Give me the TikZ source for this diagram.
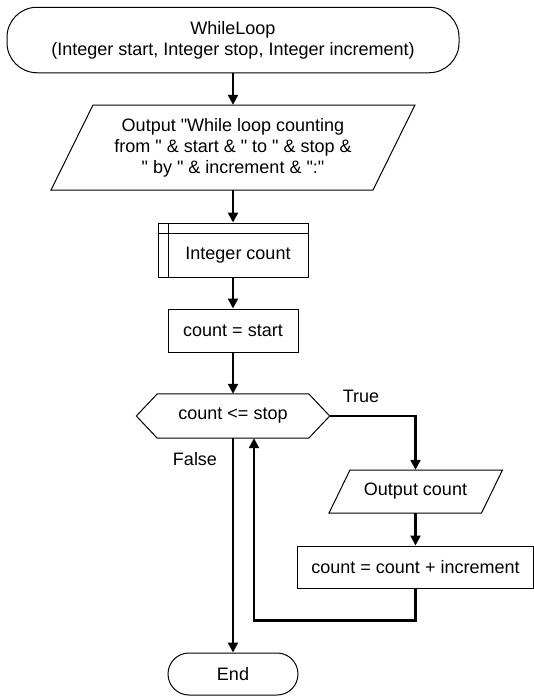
\documentclass[tikz,border=0pt]{standalone}
\usepackage{fontspec}
\setmainfont{Liberation Sans}[Ligatures=TeXOff]
\usetikzlibrary{arrows.meta}
\newcommand{\dq}{\symbol{34}}
\begin{document}
\begin{tikzpicture}[x=1pt,y=-1pt,
  shapeline/.style={draw=black,line width=1pt},
  box/.style={shapeline, rectangle, inner sep=0pt, align=center, font=\fontsize{18}{21}\selectfont},
  txt/.style={inner sep=0pt, align=center, font=\fontsize{18}{21}\selectfont},
  flow/.style={line width=2.2pt, -{Triangle[length=10pt,width=10pt]}},
  lbl/.style={inner sep=0pt, font=\fontsize{18}{21}\selectfont}]
\useasboundingbox (0,0) rectangle (534,696);

% start terminal
\node[box, rounded corners=30pt, minimum width=452pt, minimum height=65.5pt] (start) at (233,40)
  {WhileLoop\\(Integer start, Integer stop, Integer increment)};

% output parallelogram
\node[txt, minimum width=322pt, minimum height=85pt] (out1) at (233,147.5)
  {Output \dq While loop counting\\from \dq{} \& start \& \dq{} to \dq{} \& stop \&\\\dq{} by \dq{} \& increment \& \dq:\dq};
\draw[shapeline] (93,105) -- (415,105) -- (373,190) -- (51,190) -- cycle;

% declaration (internal storage)
\node[box, minimum width=150pt, minimum height=54pt] (decl) at (233,250) {};
\draw[shapeline] ([yshift=-11pt]decl.north west) -- ([yshift=-11pt]decl.north east);
\draw[shapeline] ([xshift=10.5pt]decl.north west) -- ([xshift=10.5pt]decl.south west);
\node[txt] (declt) at (238,255.5) {Integer count};

% assignment
\node[box, minimum width=130pt, minimum height=43pt] (init) at (233,330.5) {count = start};

% condition hexagon
\node[txt, minimum width=193pt, minimum height=44pt] (cond) at (233,416) {count <= stop};
\draw[shapeline] (cond.west) -- ([xshift=21pt]cond.north west) -- ([xshift=-21pt]cond.north east)
  -- (cond.east) -- ([xshift=-21pt]cond.south east) -- ([xshift=21pt]cond.south west) -- cycle;

% output count
\node[txt, minimum width=153pt, minimum height=43pt] (out2) at (415.5,491.5) {Output count};
\draw[shapeline] (350,470) -- (502.5,470) -- (481.5,513) -- (329,513) -- cycle;

% increment
\node[box, minimum width=236pt, minimum height=42pt] (incr) at (415.5,567) {count = count + increment};

% end terminal
\node[box, rounded corners=21pt, minimum width=130pt, minimum height=42pt] (end) at (233,674) {End};

% labels
\node[lbl] (truelbl) at (361,396) {True};
\node[lbl] (falselbl) at (195,459) {False};

% connectors
\draw[flow] (start.south) -- (out1.north);
\draw[flow] (out1.south) -- (decl.north);
\draw[flow] (decl.south) -- (init.north);
\draw[flow] (init.south) -- (cond.north);
\draw[flow] (cond.east) -| (out2.north);
\draw[flow] (out2.south) -- (incr.north);
\draw[flow] (incr.south) -- ++(0,32) -| ([xshift=21pt]cond.south);
\draw[flow] (cond.south) -- (end.north);
\end{tikzpicture}
\end{document}
